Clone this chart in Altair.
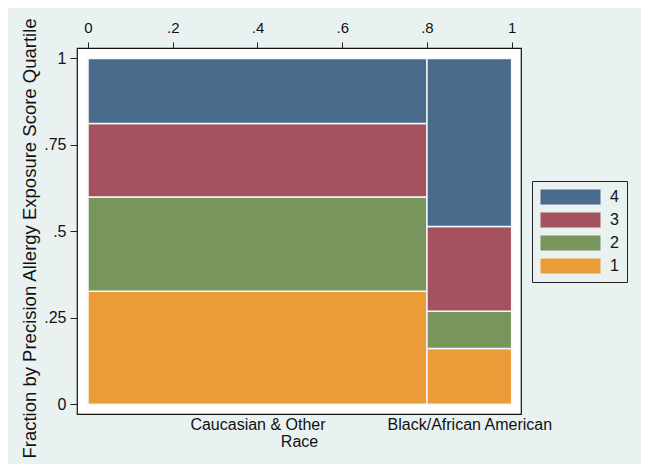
import altair as alt
import pandas as pd
import numpy as np

# ---- data ----
races = ["Caucasian & Other", "Black/African American"]
race_share = [0.80, 0.20]
quartiles = ["1", "2", "3", "4"]
caucasian_frac = [0.327, 0.272, 0.213, 0.188]
black_frac = [0.161, 0.108, 0.245, 0.486]
colors = {"4": "#4b6b8c", "3": "#a4535e", "2": "#78955e", "1": "#eb9b38"}

x_ticks = [0, 0.2, 0.4, 0.6, 0.8, 1]
y_ticks = [0, 0.25, 0.5, 0.75, 1]

rows = []
x_edges = np.concatenate([[0], np.cumsum(race_share)])
centers = []
for i, (race, fr) in enumerate(zip(races, [caucasian_frac, black_frac])):
    y_edges = np.concatenate([[0], np.cumsum(fr)])
    y_edges[-1] = 1.0
    centers.append(float((x_edges[i] + x_edges[i + 1]) / 2))
    for j, q in enumerate(quartiles):
        rows.append(dict(race=race, q=q, x0=x_edges[i], x1=x_edges[i + 1],
                         y0=y_edges[j], y1=y_edges[j + 1], xc=centers[i]))
df = pd.DataFrame(rows)

BG = "#e9f1f1"
FONT = "Liberation Sans"

xscale = alt.Scale(domain=[-0.026, 1.022], nice=False, zero=False)
yscale = alt.Scale(domain=[-0.028, 1.030], nice=False, zero=False)

label_expr_top = "datum.value == 0 ? '0' : datum.value == 1 ? '1' : replace(toString(datum.value), '0.', '.')"

bottom_expr = " : ".join(
    [f"abs(datum.value - {c:.4f}) < 0.001 ? '{r}'" for c, r in zip(centers, races)]
) + " : ''"

rects = alt.Chart(df).mark_rect(stroke="#f4f7f7", strokeWidth=1.5).encode(
    x=alt.X("x0:Q", scale=xscale,
            axis=alt.Axis(orient="top", values=x_ticks, labelExpr=label_expr_top,
                          title=None, grid=False, domain=False, tickSize=6,
                          labelPadding=7, tickColor="#222",
                          labelFont=FONT, labelFontSize=15)),
    x2="x1:Q",
    y=alt.Y("y0:Q", scale=yscale,
            axis=alt.Axis(orient="left", values=y_ticks, labelExpr=label_expr_top,
                          title="Fraction by Precision Allergy Exposure Score Quartile",
                          grid=False, domain=False, tickSize=7, labelPadding=4,
                          titlePadding=4, titleY=190, tickColor="#222",
                          labelFont=FONT, labelFontSize=16,
                          titleFont=FONT, titleFontSize=18.5)),
    y2="y1:Q",
    color=alt.Color("q:N",
                    scale=alt.Scale(domain=["4", "3", "2", "1"],
                                    range=[colors[k] for k in ["4", "3", "2", "1"]]),
                    legend=alt.Legend(orient="none", legendX=455, legendY=133,
                                      title=None, strokeColor="#222", padding=8,
                                      symbolType="M-1,-1L7,-1L7,1L-1,1Z",
                                      symbolSize=225, symbolStrokeWidth=0,
                                      labelFontSize=16, labelFont=FONT,
                                      labelOffset=54, rowPadding=7)),
)

bottom = alt.Chart(df).mark_point(opacity=0).encode(
    x=alt.X("xc:Q", scale=xscale,
            axis=alt.Axis(orient="bottom", values=centers, labelExpr=bottom_expr,
                          title="Race", grid=False, domain=False, ticks=False,
                          labelPadding=2, titlePadding=1,
                          labelFont=FONT, labelFontSize=16,
                          titleFont=FONT, titleFontSize=16)),
)

chart = alt.layer(rects, bottom).resolve_axis(x="independent").properties(
    width=444, height=366,
    padding={"left": 69, "top": 40, "right": 120, "bottom": 50},
    autosize=alt.AutoSizeParams(type="none"),
    background=BG,
).configure_view(
    stroke="#111", strokeWidth=1.2, fill="white"
).configure_axis(
    labelColor="#111", titleColor="#111", titleFontWeight="normal",
).configure_legend(
    labelColor="#111"
)

chart.save("out.html", embed_options={"renderer": "svg", "actions": False})
